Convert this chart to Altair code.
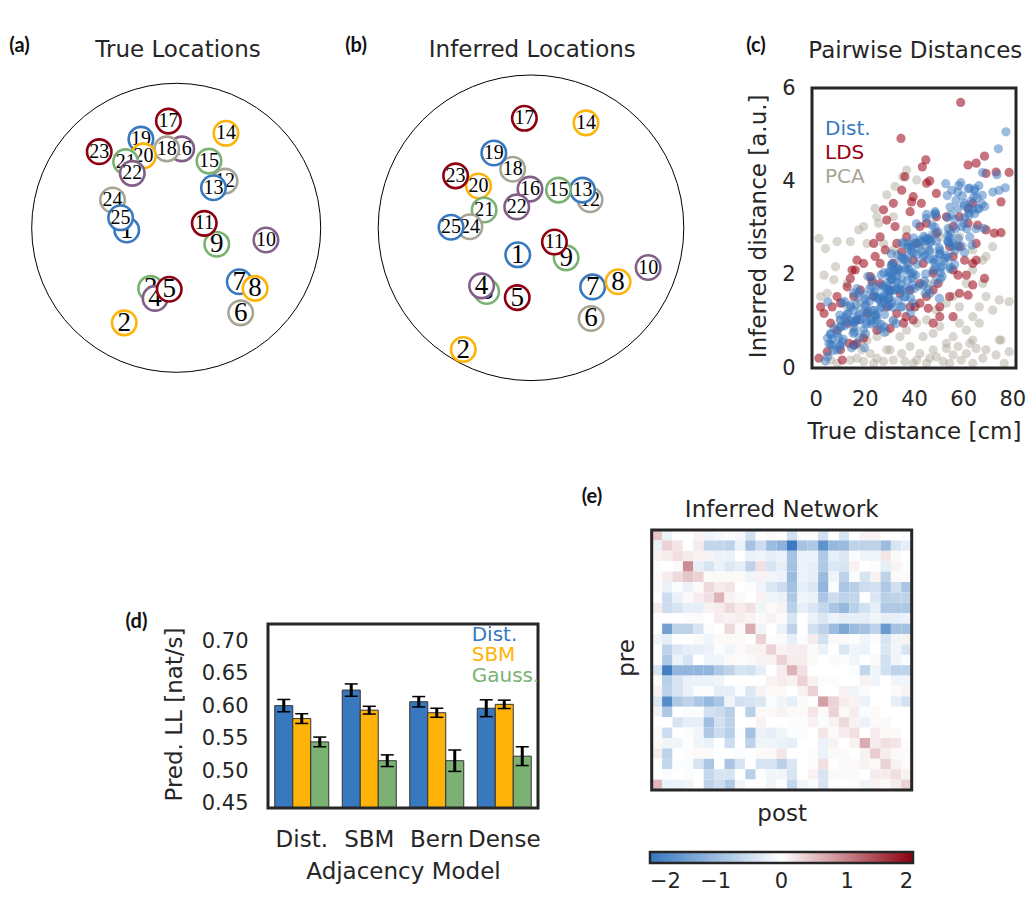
import math
import altair as alt
import pandas as pd

# ---------------- data ----------------
node_ids = list(range(1, 26))
node_palette = ["#3778bf", "#feb308", "#7bb274", "#825f87", "#8c000f", "#a8a495"]

# (a) true locations [cm], arena radius 52 cm
true_x = [-17.8, -18.7, -9.2, -7.6, -2.5, 23.2, 22.7, 28.4, 14.6, 32.3, 10.1, 17.6, 13.4,
          17.9, 11.8, 2.0, -2.8, -3.4, -12.7, -11.8, -18.2, -15.8, -27.7, -22.9, -20.0]
true_y = [-0.8, -34.2, -21.8, -25.4, -22.1, -30.6, -19.4, -21.8, -5.9, -4.4, 1.6, 16.8, 14.4,
          34.0, 24.0, 28.4, 38.4, 28.4, 31.9, 25.9, 23.8, 19.6, 27.4, 10.0, 3.6]
ARENA_TRUE = 52.0

# (b) inferred locations [a.u.], arena radius 3
inf_x = [-0.26, -1.33, -0.87, -0.97, -0.27, 1.18, 1.21, 1.71, 0.69, 2.30, 0.46, 1.16, 1.01,
         1.08, 0.54, -0.02, -0.13, -0.36, -0.73, -1.03, -0.92, -0.28, -1.48, -1.20, -1.57]
inf_y = [-0.53, -2.39, -1.25, -1.14, -1.37, -1.78, -1.16, -1.06, -0.59, -0.78, -0.28, 0.55, 0.74,
         2.06, 0.74, 0.76, 2.15, 1.15, 1.47, 0.82, 0.35, 0.41, 1.02, 0.02, 0.01]
ARENA_INF = 3.0

# (c) pairwise distances (true [cm], inferred [a.u.])
lds_points = [
    (59, 5.69), (34.7, 4.92), (44.8, 4.46), (43.4, 4.31), (46.4, 4.01), (36.3, 4.1), (35, 3.81),
    (78.7, 4.19), (75.4, 3.56), (75.4, 2.9), (68.7, 4.54), (65.3, 4.39), (62, 4.35), (69.3, 4.17),
    (73.4, 4.2), (31.6, 3.53), (39, 3.56), (43, 3.53), (38.4, 3.35), (28.9, 3.17), (27.6, 3.39),
    (32.3, 3.03), (23.6, 2.67), (24.2, 2.39), (16.1, 2.1), (14.1, 1.92), (12.8, 1.74), (8.7, 1.53),
    (2, 1.31), (3.4, 1.17), (6.1, 0.96), (13.5, 0.53), (15.5, 0.49), (16.8, 0.53), (19.5, 0.64),
    (10.1, 0.39), (1.3, 0.21), (10.8, 0.17), (4.7, 0.35), (24.9, 0.81), (30.3, 0.85), (35.7, 0.96),
    (39.7, 1.03), (38.4, 1.31), (42.4, 1.39), (45.1, 1.53), (47.8, 1.67), (50.5, 1.31), (55.9, 1.1),
    (54.5, 1.53), (58.5, 1.6), (62, 1.56), (63.9, 1.78), (68.7, 1.92), (61.3, 1.99), (57.9, 1.99),
    (63.9, 2.24), (65.3, 2.31), (60.6, 2.31), (55.9, 2.39), (54.5, 2.6), (58.5, 2.6), (65.3, 2.67),
    (65.9, 3.06), (69.3, 2.96), (72.7, 2.89), (62, 3.1), (53.2, 3.24), (49.1, 3.24), (49.1, 2.89),
    (45.1, 3.1), (42.4, 3.03), (41.1, 2.67), (37, 2.81), (35, 2.49), (39.7, 2.31), (43.7, 2.24),
    (47.8, 2.03), (49.8, 1.81), (42.4, 1.81), (38.4, 1.67), (34.3, 1.6), (30.3, 1.67), (26.2, 1.81),
    (22.2, 1.96), (19.5, 2.24), (16.8, 2.31), (14.8, 2.1), (23.6, 1.53), (28.9, 1.31), (33, 1.17),
    (36.7, 1.1), (20.9, 1.17), (16.8, 1.03), (12.8, 0.96), (8.7, 0.81), (6.7, 1.31), (10.1, 1.39),
    (15.5, 1.53), (18.2, 1.67), (26.2, 2.24), (31.6, 2.24), (28.3, 2.53), (33, 2.67), (26.2, 2.81),
    (22.9, 1.85), (55.9, 2.1), (58.5, 3.24), (55.9, 3.03), (62, 3.42), (63.9, 3.53), (49.1, 3.74),
    (45.1, 3.96), (39.7, 3.67), (50.5, 1.1), (45.8, 1.28), (40.4, 1.31), (47.8, 0.96)]

pca_points = [
    (1.3, 2.78), (4, 2.56), (8.7, 2.71), (14.1, 2.71), (17.5, 2.96), (19.5, 3.03), (20.9, 2.67),
    (3.4, 1.99), (8.1, 2.17), (7.4, 1.89), (2, 1.53), (4.7, 1.6), (12.8, 1.81), (28.9, 3.71),
    (32.3, 3.89), (35.4, 4.1), (37, 4.24), (41.1, 4.03), (25.6, 3.1), (31.6, 3.24), (24.2, 3.42),
    (72, 2.6), (68, 2.31), (63.9, 2.1), (61.3, 1.81), (68, 1.81), (69.3, 1.53), (74.7, 1.46),
    (78.7, 1.42), (66.6, 1.31), (72, 1.24), (63.9, 1.1), (58.5, 0.96), (61.3, 0.81), (66.6, 0.96),
    (50.5, 0.89), (47.8, 0.74), (55.9, 0.67), (45.1, 1.03), (41.1, 0.96), (37, 0.81), (43.7, 0.67),
    (53.2, 0.53), (63.9, 0.6), (74.7, 0.6), (6.1, 0.17), (8.7, 0.1), (14.1, 0.17), (16.8, 0.21),
    (19.5, 0.14), (22.2, 0.31), (24.9, 0.21), (27.6, 0.14), (30.3, 0.39), (31.6, 0.17), (35, 0.31),
    (36.3, 0.14), (38.4, 0.46), (41.1, 0.17), (42.4, 0.31), (45.1, 0.1), (47.8, 0.39), (49.1, 0.24),
    (51.8, 0.14), (53.2, 0.42), (55.9, 0.28), (57.9, 0.46), (59.2, 0.17), (61.3, 0.31), (63.9, 0.1),
    (65.3, 0.42), (68, 0.21), (69.3, 0.39), (73.4, 0.28), (75.4, 0.6), (78.7, 0.35), (76.7, 0.1),
    (23.6, 0.1), (28.9, 0.39), (39.7, 0.1), (46.4, 0.21), (54.5, 0.1), (62.7, 0.53), (18.8, 0.39),
    (12.8, 1.31), (18.2, 1.39), (23.6, 1.1), (24.9, 0.67), (28.9, 0.78), (34.3, 0.67), (31.6, 1.03),
    (15.5, 0.81), (20.9, 0.6), (10.1, 1.03), (49.1, 1.24), (55.9, 1.53), (58.5, 1.31), (53.2, 1.39),
    (47.8, 2.1), (45.1, 1.81), (39.7, 1.96), (37, 2.24), (31.6, 2.53), (27.6, 2.67), (37, 2.96),
    (45.1, 2.6), (50.5, 2.81), (54.5, 2.96), (58.5, 2.81), (63.9, 2.53), (69.3, 2.39), (24.9, 3.24)]

# (d) predictive log likelihood
adj_models = ["Dist.", "SBM", "Bern", "Dense"]
ll_series = ["Dist.", "SBM", "Gauss."]
mean_dist = [0.601, 0.625, 0.607, 0.597]
mean_sbm = [0.581, 0.594, 0.590, 0.603]
mean_gauss = [0.545, 0.516, 0.516, 0.523]
err_dist = [0.0095, 0.0095, 0.008, 0.013]
err_sbm = [0.0075, 0.006, 0.007, 0.0065]
err_gauss = [0.0075, 0.009, 0.0165, 0.0145]

# (e) inferred network weights (rows = pre, cols = post)
net_weights = [
    [0.45, -0.2, 0, 0, 0.1, -0.15, -0.1, -0.05, -0.1, -0.45, 0, 0.05, 0, -0.45, -0.05, -0.05, -0.45, 0, -0.4, 0, 0.1, 0.1, 0, 0, -0.05],
    [-0.2, 0.35, 0.2, 0, 0.15, -0.6, -0.6, -0.65, -0.2, -0.9, -0.5, -1.0, -1.15, -1.95, -0.9, -0.8, -1.6, -1.05, -1.0, -0.65, -0.65, -0.65, -1.0, -0.4, -0.25],
    [0.1, 0.15, 0.25, 0.15, 0.1, 0.1, -0.2, -0.2, 0, -0.2, -0.15, -0.25, -0.2, -0.9, -0.2, -0.2, -0.8, -0.25, -0.35, -0.05, -0.15, -0.15, 0.2, 0.05, 0],
    [-0.05, 0, 0.05, 0.9, -0.25, -0.4, -0.2, -0.35, -0.25, -0.65, 0.25, -0.4, -0.25, -0.9, -0.2, -0.25, -0.8, -0.35, -0.4, 0.1, 0, -0.05, -0.25, 0.1, -0.05],
    [0.05, 0.15, 0.3, 0.45, 0.35, 0.05, 0.05, 0.05, 0.05, -0.15, 0.1, -0.15, -0.2, -1.0, -0.2, -0.25, -1.0, -0.15, -0.65, -0.05, -0.4, 0.1, -0.65, 0.05, 0.05],
    [0.05, -0.2, -0.05, -0.2, 0.05, 0.3, 0.15, 0.2, 0, -0.05, -0.15, -0.35, -0.5, -0.9, -0.25, -0.35, -1.1, -0.05, -0.85, -0.7, -0.5, -0.45, -0.8, -0.45, -0.85],
    [0, -0.5, -0.2, 0.05, 0.15, 0.25, 0.6, 0.1, 0.05, 0, 0.1, -0.15, -0.2, -0.8, -0.15, -0.2, -0.85, -0.5, -0.65, -0.6, 0, -0.35, -0.7, -0.65, -0.65],
    [0.15, -0.5, -0.4, -0.25, -0.25, 0.1, 0.15, 0.3, 0.15, 0.25, -0.15, 0.05, 0.1, -0.7, -0.25, -0.35, -0.6, -0.85, -1.05, -0.7, -0.45, -0.25, -0.8, -0.8, -0.8],
    [0, 0, 0, -0.05, 0.05, 0, 0.15, 0.1, 0.15, 0.1, 0.05, 0.1, 0.05, -0.4, 0, -0.2, -0.35, -0.2, -0.25, -0.25, -0.25, -0.15, -0.25, -0.25, -0.2],
    [0, -1.4, -0.65, -0.65, -0.4, -0.05, 0, 0.3, 0.05, 0.65, -0.15, 0, -0.2, -0.65, 0, -0.45, -0.65, -1.0, -1.3, -1.0, -0.9, -0.65, -1.5, -0.9, -0.9],
    [-0.15, -0.25, 0, 0, 0.05, -0.15, 0.05, 0.05, 0.05, 0, 0.35, -0.05, 0.05, -0.25, -0.05, 0.15, -0.45, 0.05, 0.05, -0.05, -0.15, -0.05, -0.4, -0.15, 0.1],
    [0, -0.65, -0.35, -0.25, -0.25, -0.2, -0.05, -0.15, 0.05, 0.1, 0.1, 0.35, 0.1, 0.15, 0.15, 0.05, -0.2, 0, -0.35, -0.15, -0.2, 0, -0.35, -0.15, -0.4],
    [0, -0.8, -0.2, -0.4, 0, -0.15, -0.15, 0.05, -0.05, 0.05, 0.1, 0.1, 0.35, 0.15, 0.15, 0.05, 0, 0.05, -0.05, -0.15, 0, 0.05, -0.45, -0.15, -0.05],
    [-0.4, -1.9, -1.1, -1.1, -1.1, -1.1, -0.8, -0.65, -0.4, -0.45, -0.25, 0, 0.15, 0.6, 0.25, 0, 0, 0, 0, -0.05, -0.6, -0.15, -0.45, -0.65, -0.65],
    [-0.05, -0.7, -0.4, -0.2, -0.2, -0.2, -0.15, 0, 0, 0, 0, 0.1, 0.15, 0.1, 0.35, 0.1, -0.05, -0.05, 0, 0, 0.1, -0.15, 0, -0.15, -0.15],
    [0.1, -0.65, -0.4, -0.2, -0.05, -0.05, -0.25, -0.25, -0.05, -0.35, 0.1, 0.05, 0.05, 0, 0.1, 0.35, 0, 0, 0.1, -0.15, 0.05, 0, 0, 0.05, 0.1],
    [-0.35, -1.7, -0.8, -0.65, -0.85, -1.05, -0.85, -0.15, -0.45, -0.4, -0.35, -0.05, -0.15, -0.25, 0.05, 0, 0.75, 0.35, 0.15, 0.1, -0.2, 0, 0, -0.25, -0.45],
    [-0.15, -0.8, 0, -0.05, -0.05, -0.45, -0.5, -0.7, 0, -0.7, 0.05, 0.05, 0.1, 0.05, 0.05, 0.2, 0.05, 0.35, 0.05, 0.15, -0.05, 0.05, 0, 0, 0],
    [0, 0, -0.4, -0.25, -0.25, -0.95, -0.45, -0.65, 0, 0, 0.1, 0, 0, -0.05, -0.05, 0.1, -0.05, 0.1, 0.3, 0.1, -0.2, 0.05, 0.05, 0, 0],
    [0.05, -0.5, 0, -0.05, -0.15, -0.8, -0.5, -0.7, -0.05, -0.9, -0.2, -0.25, -0.15, -0.05, -0.05, 0, 0.2, 0.05, 0.15, 0.25, 0, 0.15, 0.05, 0.05, 0],
    [0.05, -0.15, -0.15, 0, -0.15, -0.2, 0, -0.5, 0, -0.65, -0.15, -0.15, -0.2, -0.25, 0, 0, -0.2, 0.1, 0, 0.1, 0.65, 0.15, 0.25, 0.2, -0.05],
    [0.15, -0.65, 0, -0.05, 0.05, 0.05, 0, 0, -0.05, 0, 0.05, 0.05, 0.2, 0, 0, -0.05, -0.2, 0.05, 0.05, 0, 0.1, 0.4, 0.15, 0.05, 0.05],
    [0, -0.6, -0.05, -0.05, -0.4, -0.85, 0, -0.85, -0.4, 0, -0.4, -0.4, -0.7, -0.35, 0, -0.05, 0.25, 0, 0.05, 0.05, 0.1, 0.05, 0.35, 0.1, 0.05],
    [0, -0.05, 0, -0.05, 0, -0.6, -0.4, -0.4, 0, -0.7, -0.05, -0.15, -0.15, -0.4, 0, 0.1, -0.4, 0.05, 0.05, 0.05, 0, 0.15, 0.15, 0.25, 0.1],
    [0.55, -0.2, -0.2, -0.15, 0, -0.65, -0.5, -0.8, -0.15, 0, 0, -0.15, 0, -0.6, -0.15, -0.05, -0.4, 0, 0, -0.05, -0.15, 0.1, 0.05, 0.15, 0.35],
]

# ---------------- layout / style ----------------
W, H = 1019, 886
M = 8
def P(v):  # page pixel -> plot pixel
    return v - M

INK = "#262626"
FONT = "DejaVu Sans"
BLUE, AMBER, GREEN, RED, GREY = "#3778bf", "#feb308", "#7bb274", "#990012", "#a8a495"
one = pd.DataFrame({"k": [0]})


def text_at(txt, x, y, size=23, color=INK, align="center", baseline="alphabetic",
            font=FONT, weight="normal"):
    return alt.Chart(one).mark_text(text=txt, font=font, fontSize=size, color=color,
                                    align=align, baseline=baseline, fontWeight=weight
                                    ).encode(x=alt.value(x), y=alt.value(y))


# ---------------- panels (a), (b) ----------------
def location_panel(xs, ys, arena_r, cx, cy, rpx):
    df = pd.DataFrame({"node": node_ids, "x": xs, "y": ys,
                       "col": [node_palette[(i - 1) % 6] for i in node_ids],
                       "label": [str(i) for i in node_ids]})
    sx = alt.Scale(domain=[-arena_r, arena_r], range=[P(cx) - rpx, P(cx) + rpx])
    sy = alt.Scale(domain=[-arena_r, arena_r], range=[P(cy) + rpx, P(cy) - rpx])
    X = alt.X("x:Q", scale=sx, axis=None)
    Y = alt.Y("y:Q", scale=sy, axis=None)
    arena = alt.Chart(pd.DataFrame({"x": [0.0], "y": [0.0]})).mark_point(
        shape="circle", filled=False, size=(2 * rpx) ** 2, color="black",
        strokeWidth=1, opacity=1).encode(x=X, y=Y)
    layers = [arena]
    for i in node_ids:
        base = alt.Chart(df).transform_filter(alt.datum.node == i)
        layers.append(base.mark_point(shape="circle", filled=True, fill="white", size=600,
                                      strokeWidth=2.6, opacity=1, fillOpacity=1).encode(
            x=X, y=Y, stroke=alt.Stroke("col:N", scale=None)))
        layers.append(base.mark_text(font="Liberation Serif", fontSize=27 if i < 10 else 20,
                                     color="black", baseline="middle", align="center").encode(
            x=X, y=Y, text="label:N"))
    return alt.layer(*layers)


panelA = location_panel(true_x, true_y, ARENA_TRUE, 176.2, 227.8, 144.5)
panelB = location_panel(inf_x, inf_y, ARENA_INF, 531.0, 227.8, 152.8)

# ---------------- panel (c) ----------------
pairs_true, pairs_inf = [], []
for i in range(25):
    for j in range(i + 1, 25):
        pairs_true.append(math.hypot(true_x[i] - true_x[j], true_y[i] - true_y[j]))
        pairs_inf.append(math.hypot(inf_x[i] - inf_x[j], inf_y[i] - inf_y[j]))
dist_df = pd.DataFrame({"t": pairs_true, "d": pairs_inf})
lds_df = pd.DataFrame(lds_points, columns=["t", "d"])
pca_df = pd.DataFrame(pca_points, columns=["t", "d"])

sxC = alt.Scale(domain=[-1.5, 81.5], range=[P(812), P(1016)])
syC = alt.Scale(domain=[0, 6], range=[P(368), P(88)])
axCx = alt.Axis(orient="bottom", offset=P(368) - H, values=[0, 20, 40, 60, 80], ticks=False,
                tickSize=0, domain=False, grid=False, labelFontSize=21, labelColor=INK,
                labelPadding=37, labelBaseline="alphabetic", labelFlush=False, labelOverlap=False,
                title="True distance [cm]", titleFontSize=23, titleFontWeight="normal",
                titleColor=INK, titleX=(P(812) + P(1016)) / 2, titleY=70,
                titleBaseline="alphabetic", titleAlign="center")
axCy = alt.Axis(orient="left", offset=-P(812), values=[0, 2, 4, 6], ticks=False, tickSize=0,
                domain=False, grid=False, labelFontSize=21, labelColor=INK, labelPadding=17,
                labelFlush=False, labelOverlap=False,
                title="Inferred distance [a.u.]", titleFontSize=23, titleFontWeight="normal",
                titleColor=INK, titleX=P(765) - P(812), titleY=P(225.8), titleAngle=-90,
                titleBaseline="alphabetic", titleAlign="center")
XC = alt.X("t:Q", scale=sxC, axis=axCx)
YC = alt.Y("d:Q", scale=syC, axis=axCy)
panelC = alt.layer(
    alt.Chart(pca_df).mark_circle(size=85, color=GREY, opacity=0.45).encode(x=XC, y=YC),
    alt.Chart(lds_df).mark_circle(size=85, color=RED, opacity=0.55).encode(x=XC, y=YC),
    alt.Chart(dist_df).mark_circle(size=85, color=BLUE, opacity=0.5).encode(x=XC, y=YC),
    alt.Chart(pd.DataFrame({"t": [-1.5], "t2": [81.5], "d": [0.0], "d2": [6.0]})).mark_rect(
        fillOpacity=0, stroke=INK, strokeWidth=3).encode(x=XC, x2="t2:Q", y=YC, y2="d2:Q"),
)

# ---------------- panel (d) ----------------
D_LO, D_HI = 0.443, 0.727
rows = []
for s, means, errs in zip(ll_series, [mean_dist, mean_sbm, mean_gauss], [err_dist, err_sbm, err_gauss]):
    for g, m, e in zip(adj_models, means, errs):
        rows.append({"group": g, "series": s, "mean": m, "lo": m - e, "hi": m + e, "base": D_LO})
ll_df = pd.DataFrame(rows)

sxD = alt.Scale(domain=adj_models, range=[P(268), P(538)], paddingInner=0.2, paddingOuter=0.1)
syD = alt.Scale(domain=[D_LO, D_HI], range=[P(808), P(624)])
axDx = alt.Axis(orient="bottom", offset=P(808) - H, ticks=False, tickSize=0, domain=False,
                grid=False, labelFontSize=23, labelColor=INK, labelPadding=38, labelAngle=0,
                labelBaseline="alphabetic", labelOverlap=False, labelFlush=False,
                title="Adjacency Model", titleFontSize=23, titleFontWeight="normal",
                titleColor=INK, titleX=(P(268) + P(538)) / 2, titleY=70,
                titleBaseline="alphabetic", titleAlign="center")
axDy = alt.Axis(orient="left", offset=-P(268), values=[0.45, 0.5, 0.55, 0.6, 0.65, 0.7],
                format=".2f", ticks=False, tickSize=0, domain=False, grid=False,
                labelFontSize=21, labelColor=INK, labelPadding=20, labelFlush=False,
                labelOverlap=False, title="Pred. LL [nat/s]", titleFontSize=23,
                titleFontWeight="normal", titleColor=INK, titleX=P(181) - P(268),
                titleY=P(714), titleAngle=-90, titleBaseline="alphabetic", titleAlign="center")
XD = alt.X("group:N", scale=sxD, axis=axDx)
XO = alt.XOffset("series:N", scale=alt.Scale(domain=ll_series, paddingInner=0, paddingOuter=0))
panelD = alt.layer(
    alt.Chart(ll_df).mark_bar(stroke="#333333", strokeWidth=1).encode(
        x=XD, xOffset=XO, y=alt.Y("mean:Q", scale=syD, axis=axDy), y2="base:Q",
        color=alt.Color("series:N", scale=alt.Scale(domain=ll_series, range=[BLUE, AMBER, GREEN]),
                        legend=None)),
    alt.Chart(ll_df).mark_rule(color="black", strokeWidth=3).encode(
        x=XD, xOffset=XO, y=alt.Y("lo:Q", scale=syD, axis=axDy), y2="hi:Q"),
    alt.Chart(ll_df).mark_tick(color="black", thickness=1.5, size=13, opacity=1).encode(
        x=XD, xOffset=XO, y=alt.Y("lo:Q", scale=syD, axis=axDy)),
    alt.Chart(ll_df).mark_tick(color="black", thickness=1.5, size=13, opacity=1).encode(
        x=XD, xOffset=XO, y=alt.Y("hi:Q", scale=syD, axis=axDy)),
    alt.Chart(pd.DataFrame({"y0": [D_LO], "y1": [D_HI]})).mark_rect(
        fillOpacity=0, stroke=INK, strokeWidth=3).encode(
        x=alt.value(P(268)), x2=alt.value(P(538)),
        y=alt.Y("y0:Q", scale=syD, axis=axDy), y2="y1:Q"),
)

# ---------------- panel (e) ----------------
cells = []
for r, row in enumerate(net_weights):
    for c, v in enumerate(row):
        cells.append({"c0": c, "c1": c + 1, "r0": r, "r1": r + 1, "w": v})
net_df = pd.DataFrame(cells)
sxE = alt.Scale(domain=[0, 25], range=[P(651.7), P(911.7)])
syE = alt.Scale(domain=[0, 25], range=[P(530), P(790)])
axEx = alt.Axis(orient="bottom", offset=P(790) - H, labels=False, ticks=False, tickSize=0,
                domain=False, grid=False, title="post", titleFontSize=23,
                titleFontWeight="normal", titleColor=INK, titleX=P(781.7), titleY=820 - 790,
                titleBaseline="alphabetic", titleAlign="center")
axEy = alt.Axis(orient="left", offset=-P(651.7), labels=False, ticks=False, tickSize=0,
                domain=False, grid=False, title="pre", titleFontSize=23,
                titleFontWeight="normal", titleColor=INK, titleX=633 - 651.7, titleY=P(657.5),
                titleAngle=-90, titleBaseline="alphabetic", titleAlign="center")
XE = alt.X("c0:Q", scale=sxE, axis=axEx)
YE = alt.Y("r0:Q", scale=syE, axis=axEy)
panelE = alt.layer(
    alt.Chart(net_df).mark_rect().encode(
        x=XE, x2="c1:Q", y=YE, y2="r1:Q",
        color=alt.Color("w:Q", title=None,
                        scale=alt.Scale(domain=[-2, 0, 2], range=[BLUE, "#ffffff", "#8c000f"],
                                        interpolate="rgb"),
                        legend=alt.Legend(orient="none", legendX=P(650), legendY=P(852),
                                          direction="horizontal", gradientLength=263,
                                          gradientThickness=11, values=[-2, -1, 0, 1, 2],
                                          labelFontSize=21, labelColor=INK, labelOffset=8,
                                          labelAlign="center", gradientStrokeColor=INK,
                                          gradientStrokeWidth=2.5, padding=0))),
    alt.Chart(pd.DataFrame({"c0": [0], "c1": [25], "r0": [0], "r1": [25]})).mark_rect(
        fillOpacity=0, stroke=INK, strokeWidth=3).encode(x=XE, x2="c1:Q", y=YE, y2="r1:Q"),
)

# ---------------- annotations ----------------
notes = [
    text_at("True Locations", P(178), P(56.7)),
    text_at("Inferred Locations", P(532.3), P(56.7)),
    text_at("Pairwise Distances", P(915.3), P(58.3)),
    text_at("Inferred Network", P(781.7), P(516.5)),
    text_at("Dist.", P(825), P(135), size=20, color=BLUE, align="left"),
    text_at("LDS", P(825), P(159), size=20, color=RED, align="left"),
    text_at("PCA", P(825), P(182.7), size=20, color=GREY, align="left"),
    text_at("Dist.", P(471.7), P(640.7), size=20, color=BLUE, align="left"),
    text_at("SBM", P(471.7), P(661), size=20, color=AMBER, align="left"),
    text_at("Gauss.", P(471.7), P(681.7), size=20, color=GREEN, align="left"),
]
for lab, x, y in [("(a)", 19.5, 46), ("(b)", 356, 46), ("(c)", 756, 46),
                  ("(d)", 136.5, 622), ("(e)", 592, 497)]:
    notes.append(text_at(lab, P(x), P(y), size=20, color="#111111", baseline="middle",
                         font="Lato", weight="bold"))

chart = alt.layer(panelA, panelB, panelC, panelD, panelE, *notes).resolve_scale(
    x="independent", y="independent", color="independent"
).properties(width=W, height=H, padding=0, autosize=alt.AutoSizeParams(type="none"))
chart = chart.configure(font=FONT).configure_view(stroke="transparent")

chart.save("out.html", embed_options={"renderer": "svg", "actions": False})
